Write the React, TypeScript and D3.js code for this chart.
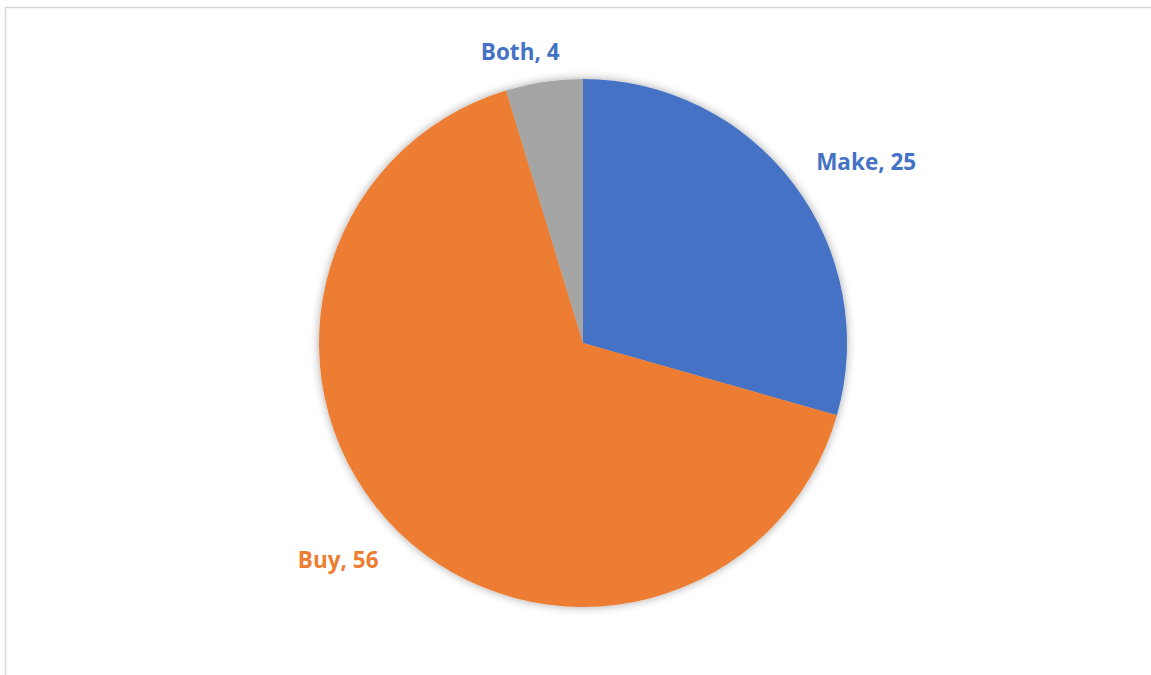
import * as React from "react";
import * as d3 from "d3";
import { useEffect, useRef } from "react";

const categories = ["Make", "Buy", "Both"];
const values = [25, 56, 4];
const sliceColors = ["#4472C4", "#ED7D31", "#A5A5A5"];
const labelColors = ["#4472C4", "#ED7D31", "#4472C4"];

const W = 1151;
const H = 675;

const App: React.FunctionComponent = () => {
  const svgRef = useRef<SVGSVGElement>(null);

  useEffect(() => {
    document.body.style.margin = "0";
    const svg = d3.select(svgRef.current).attr("width", W).attr("height", H);
    svg.selectAll("*").remove();

    // chart area frame (runs off the right/bottom edge)
    svg
      .append("rect")
      .attr("x", 5.5)
      .attr("y", 7.5)
      .attr("width", W + 20)
      .attr("height", H + 20)
      .attr("fill", "white")
      .attr("stroke", "#d9d9d9")
      .attr("stroke-width", 1.5);

    const defs = svg.append("defs");
    const f = defs
      .append("filter")
      .attr("id", "shadow")
      .attr("x", "-20%")
      .attr("y", "-20%")
      .attr("width", "140%")
      .attr("height", "140%");
    f.append("feGaussianBlur").attr("in", "SourceAlpha").attr("stdDeviation", 5);
    f.append("feOffset").attr("dx", 0).attr("dy", 0).attr("result", "b");
    f.append("feComponentTransfer")
      .append("feFuncA")
      .attr("type", "linear")
      .attr("slope", 0.35);
    const m = f.append("feMerge");
    m.append("feMergeNode");
    m.append("feMergeNode").attr("in", "SourceGraphic");

    const cx = 583;
    const cy = 343;
    const r = 264;

    const data = categories.map((c, i) => ({ category: c, value: values[i], i }));
    const pie = d3
      .pie<any>()
      .value((d) => d.value)
      .sort(null);
    const arcs = pie(data);
    const arc = d3.arc<any>().innerRadius(0).outerRadius(r);

    const g = svg.append("g").attr("transform", `translate(${cx},${cy})`);
    g.append("g")
      .attr("filter", "url(#shadow)")
      .selectAll("path")
      .data(arcs)
      .join("path")
      .attr("d", arc)
      .attr("fill", (d) => sliceColors[d.data.i]);

    // best-fit style label placement: radius + angle nudge per slice
    const labelR = [336, 327, 298];
    const labelNudge = [4.5, 4, -3.7];
    g.selectAll("text")
      .data(arcs)
      .join("text")
      .attr("x", (d) => {
        const a = (d.startAngle + d.endAngle) / 2 + (labelNudge[d.data.i] * Math.PI) / 180;
        return labelR[d.data.i] * Math.sin(a);
      })
      .attr("y", (d) => {
        const a = (d.startAngle + d.endAngle) / 2 + (labelNudge[d.data.i] * Math.PI) / 180;
        return -labelR[d.data.i] * Math.cos(a) + 8;
      })
      .attr("text-anchor", "middle")
      .attr("font-family", "'Open Sans', sans-serif")
      .attr("font-weight", 700)
      .attr("font-size", 22.5)
      .attr("fill", (d) => labelColors[d.data.i])
      .text((d) => `${d.data.category}, ${d.data.value}`);
  }, []);

  return <svg ref={svgRef} style={{ display: "block" }}></svg>;
};

export default App;
